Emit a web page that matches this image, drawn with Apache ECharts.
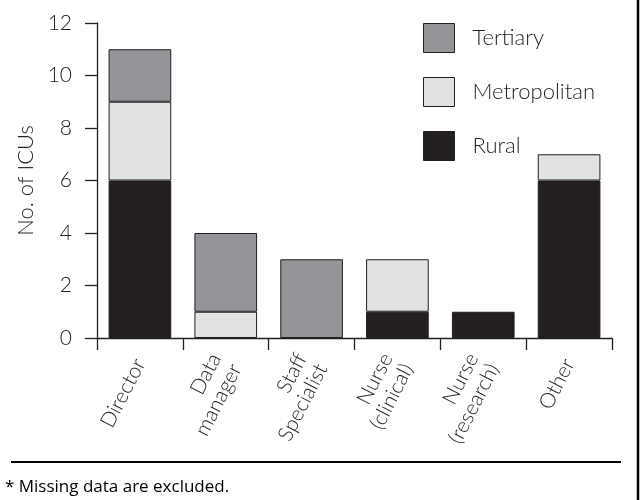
<!DOCTYPE html>
<html>
<head>
<meta charset="utf-8">
<script src="https://cdn.jsdelivr.net/npm/echarts@6/dist/echarts.min.js"></script>
<style>
html,body{margin:0;padding:0;background:#fff;}
#c{width:640px;height:500px;}
</style>
</head>
<body>
<div id="c"></div>
<script>
const categories = ['Director', 'Data\nmanager', 'Staff\nSpecialist', 'Nurse\n(clinical)', 'Nurse\n(research)', 'Other'];
const rural = [6, 0, 0, 1, 1, 6];
const metropolitan = [3, 1, 0, 2, 0, 1];
const tertiary = [2, 3, 3, 0, 0, 0];
const yTicks = { min: 0, max: 12, interval: 2 };
const yName = 'No. of ICUs';
const footnote = '* Missing data are excluded.';

const ink = '#231f20';
const font = 'Lato';
const fw = 300;
const nz = arr => arr.map(v => v === 0 ? null : v);

const chart = echarts.init(document.getElementById('c'), null, { renderer: 'canvas' });
const barStyle = (c) => ({ color: c, borderColor: ink, borderWidth: 1 });
chart.setOption({
  animation: false,
  textStyle: { fontFamily: font, color: ink, fontWeight: fw },
  grid: { left: 97, right: 28, top: 23, bottom: 162, containLabel: false },
  legend: {
    orient: 'vertical', left: 423, top: 23, padding: 0, itemWidth: 31, itemHeight: 29, itemGap: 24,
    icon: 'rect', data: ['Tertiary', 'Metropolitan', 'Rural'],
    textStyle: { fontFamily: font, fontWeight: fw, fontSize: 22, color: ink, padding: [0, 0, 0, 13] },
    itemStyle: { borderColor: ink, borderWidth: 1 }
  },
  xAxis: {
    type: 'category', data: categories,
    axisLine: { lineStyle: { color: ink, width: 1.3 } },
    axisTick: { show: true, length: 12, alignWithLabel: false, lineStyle: { color: ink, width: 1.3 } },
    axisLabel: { rotate: 63, fontSize: 21, fontWeight: fw, lineHeight: 23, color: ink, margin: 22, interval: 0, fontFamily: font }
  },
  yAxis: {
    type: 'value', min: yTicks.min, max: yTicks.max, interval: yTicks.interval,
    name: yName, nameLocation: 'middle', nameGap: 54, nameRotate: 90,
    nameTextStyle: { fontSize: 22, fontWeight: fw, color: ink, fontFamily: font },
    axisLine: { show: true, lineStyle: { color: ink, width: 1.3 } },
    axisTick: { show: true, length: 12, lineStyle: { color: ink, width: 1.3 } },
    splitLine: { show: false },
    axisLabel: { fontSize: 21, fontWeight: fw, color: ink, margin: 25, fontFamily: font }
  },
  series: [
    { name: 'Rural', type: 'bar', stack: 's', data: nz(rural), barCategoryGap: '27%', itemStyle: barStyle('#231f20') },
    { name: 'Metropolitan', type: 'bar', stack: 's', data: nz(metropolitan), itemStyle: barStyle('#e1e2e3') },
    { name: 'Tertiary', type: 'bar', stack: 's', data: nz(tertiary), itemStyle: barStyle('#939598') }
  ],
  graphic: [
    { type: 'line', shape: { x1: 11, y1: 462, x2: 621, y2: 462 }, style: { stroke: '#000', lineWidth: 2 } },
    { type: 'line', shape: { x1: 638, y1: 0, x2: 638, y2: 500 }, style: { stroke: '#000', lineWidth: 2.5 } },
    { type: 'text', left: 5, top: 479, style: { text: footnote, font: '17px "Open Sans"', fill: '#000' } }
  ]
});
</script>
</body>
</html>
